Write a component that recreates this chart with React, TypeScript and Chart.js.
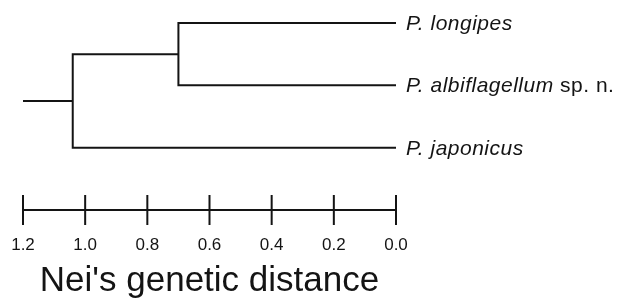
import React, { useEffect, useRef } from "react";
import { Chart, registerables } from "chart.js";

Chart.register(...registerables);

// ---- data ----
const taxa = ["P. longipes", "P. albiflagellum", "P. japonicus"];
const taxaSuffix = ["", " sp. n.", ""];
const leafRows = [0, 1, 2];
const innerNodeDistance = 0.7; // longipes + albiflagellum
const rootNodeDistance = 1.04; // (longipes, albiflagellum) + japonicus
const rootStubStart = 1.2;
const tickValues = [1.2, 1.0, 0.8, 0.6, 0.4, 0.2, 0.0];
const scaleBarRow = 3;
const axisTitle = "Nei's genetic distance";

const FONT = "'Liberation Sans', Arial, Helvetica, sans-serif";
const INK = "#141414";

export default function App() {
  const ref = useRef<HTMLCanvasElement | null>(null);

  useEffect(() => {
    if (!ref.current) return;

    const innerRow = (leafRows[0] + leafRows[1]) / 2;
    const rootRow = (innerRow + leafRows[2]) / 2;

    const seg = (pts: { x: number; y: number }[]) => ({
      type: "line" as const,
      data: pts,
      borderColor: INK,
      borderWidth: 2,
      pointRadius: 0,
      borderJoinStyle: "miter" as const,
      borderCapStyle: "butt" as const,
      tension: 0,
      clip: false as any,
      showLine: true,
    });

    const datasets: any[] = [
      seg([
        { x: 0, y: leafRows[0] },
        { x: innerNodeDistance, y: leafRows[0] },
        { x: innerNodeDistance, y: leafRows[1] },
        { x: 0, y: leafRows[1] },
      ]),
      seg([
        { x: innerNodeDistance, y: innerRow },
        { x: rootNodeDistance, y: innerRow },
        { x: rootNodeDistance, y: leafRows[2] },
        { x: 0, y: leafRows[2] },
      ]),
      seg([
        { x: rootStubStart, y: rootRow },
        { x: rootNodeDistance, y: rootRow },
      ]),
      seg([
        { x: tickValues[0], y: scaleBarRow },
        { x: tickValues[tickValues.length - 1], y: scaleBarRow },
      ]),
      ...tickValues.map((v) =>
        seg([
          { x: v, y: scaleBarRow - 0.24 },
          { x: v, y: scaleBarRow + 0.24 },
        ])
      ),
    ];

    const labelPlugin = {
      id: "leafLabels",
      afterDatasetsDraw(chart: any) {
        const { ctx, scales } = chart;
        const xs = scales.x;
        const ys = scales.y;
        ctx.save();
        ctx.fillStyle = INK;
        ctx.textBaseline = "middle";
        ctx.textAlign = "left";
        try {
          (ctx as any).letterSpacing = "0.5px";
        } catch (e) {}
        taxa.forEach((name, i) => {
          const x = xs.getPixelForValue(0) + 10;
          const y = ys.getPixelForValue(leafRows[i]) + 1;
          ctx.font = `italic 21px ${FONT}`;
          ctx.fillText(name, x, y);
          const w = ctx.measureText(name).width;
          if (taxaSuffix[i]) {
            ctx.font = `21px ${FONT}`;
            ctx.fillText(taxaSuffix[i], x + w, y);
          }
        });
        ctx.restore();
      },
    };

    const chart = new Chart(ref.current, {
      type: "scatter",
      data: { datasets },
      options: {
        animation: false,
        responsive: false,
        events: [],
        layout: { padding: { left: 23, right: 222, top: 4.3, bottom: 0 } },
        plugins: {
          legend: { display: false },
          tooltip: { enabled: false },
        },
        scales: {
          x: {
            type: "linear",
            reverse: true,
            min: 0,
            max: 1.2,
            afterBuildTicks: (axis: any) => {
              axis.ticks = tickValues.map((v) => ({ value: v }));
            },
            grid: { display: false, drawTicks: false },
            border: { display: false },
            ticks: {
              padding: 0,
              color: INK,
              font: { family: FONT, size: 17 },
              callback: (v: any) => Number(v).toFixed(1),
              maxRotation: 0,
              autoSkip: false,
            },
            title: {
              display: true,
              text: axisTitle,
              color: INK,
              font: { family: FONT, size: 35 },
              padding: { top: 4.4, bottom: 0 },
            },
          },
          y: {
            type: "linear",
            display: false,
            reverse: true,
            min: -0.3,
            max: 3.404,
          },
        },
      },
      plugins: [labelPlugin],
    });

    return () => chart.destroy();
  }, []);

  return (
    <div style={{ position: "absolute", left: 0, top: 0, width: 618, height: 302, background: "#fff" }}>
      <canvas ref={ref} width={618} height={302} style={{ display: "block" }} />
    </div>
  );
}
